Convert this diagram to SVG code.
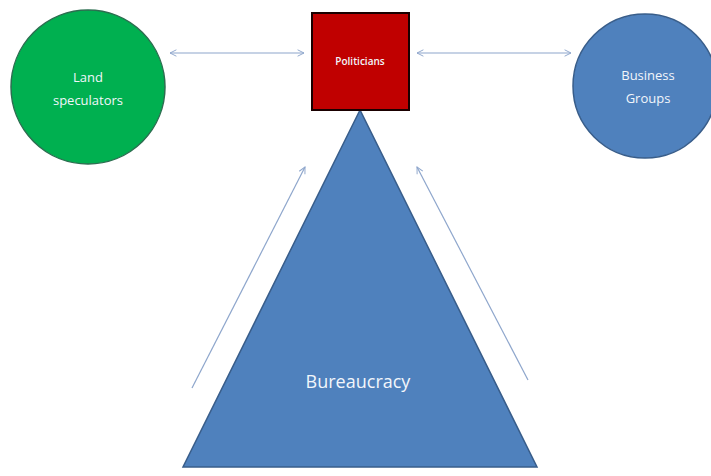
<svg xmlns="http://www.w3.org/2000/svg" width="711" height="476" viewBox="0 0 711 476">
<defs>
<marker id="ah" viewBox="0 0 10 10" refX="9" refY="5" markerWidth="8" markerHeight="8" markerUnits="userSpaceOnUse" orient="auto-start-reverse">
<path d="M1,1 L9,5 L1,9" fill="none" stroke="#8EA6CC" stroke-width="1.2"/>
</marker>
<style>
.lbl{font-family:"Open Sans","Liberation Sans",sans-serif;fill:#F2F6FB;text-anchor:middle}
.conn{stroke:#8EA6CC;stroke-width:1.2;fill:none}
</style>
</defs>
<rect width="711" height="476" fill="#ffffff"/>
<g id="bureaucracy">
<polygon points="360,110 183,467 537,467" fill="#4F81BD" stroke="#385D8A" stroke-width="1.5"/>
<text class="lbl" x="358" y="388" font-size="18">Bureaucracy</text>
</g>
<g id="land-speculators">
<circle cx="88" cy="87" r="77" fill="#00B050" stroke="#2C6E50" stroke-width="1.5"/>
<text class="lbl" x="88" y="82" font-size="13">Land</text>
<text class="lbl" x="88" y="105" font-size="13">speculators</text>
</g>
<g id="business-groups">
<circle cx="645" cy="86" r="72" fill="#4F81BD" stroke="#385D8A" stroke-width="1.5"/>
<text class="lbl" x="648" y="80" font-size="13">Business</text>
<text class="lbl" x="648" y="103" font-size="13">Groups</text>
</g>
<g id="politicians">
<rect x="312" y="13" width="97" height="97" fill="#C00000" stroke="#1a0000" stroke-width="2"/>
<text class="lbl" x="360" y="65" font-size="10" font-weight="600">Politicians</text>
</g>
<g id="connectors">
<line class="conn" x1="170" y1="53" x2="304" y2="53" marker-start="url(#ah)" marker-end="url(#ah)"/>
<line class="conn" x1="417" y1="53" x2="571" y2="53" marker-start="url(#ah)" marker-end="url(#ah)"/>
<line class="conn" x1="192" y1="388" x2="305" y2="167" marker-end="url(#ah)"/>
<line class="conn" x1="528" y1="380" x2="417" y2="167" marker-end="url(#ah)"/>
</g>
</svg>
